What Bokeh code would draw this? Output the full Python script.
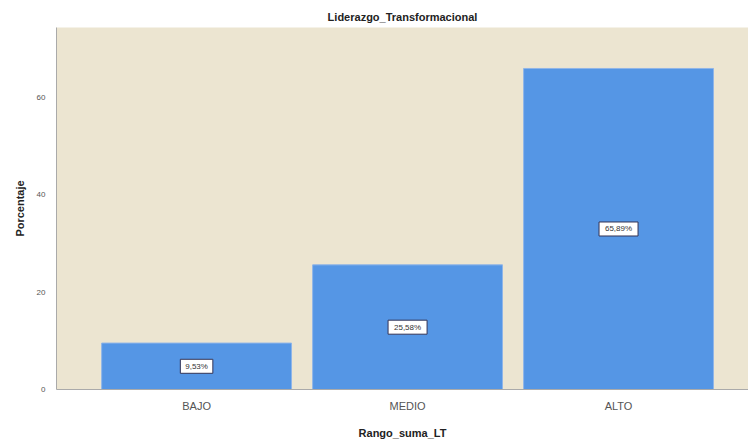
from bokeh.plotting import figure
from bokeh.models import Range1d, FixedTicker, ColumnDataSource
from bokeh.core.properties import value
from bokeh.embed import file_html
from bokeh.resources import INLINE

categories = ["BAJO", "MEDIO", "ALTO"]
values = [9.53, 25.58, 65.89]
labels = ["9,53%", "25,58%", "65,89%"]
y_ticks = [0, 20, 40, 60]

x = list(range(len(categories)))
src = ColumnDataSource(dict(x=x, top=values, mid=[v / 2 for v in values], lab=labels,
                            bw=[6.5 * len(s) for s in labels]))

p = figure(width=748, height=443, output_backend="svg", toolbar_location=None,
           x_range=Range1d(-0.664, 2.616), y_range=Range1d(0, 74.3),
           frame_width=692, frame_height=362,
           min_border_left=56, min_border_right=0, min_border_top=27, min_border_bottom=54,
           title="Liderazgo_Transformacional")
p.background_fill_color = "#ECE5D1"
p.border_fill_color = "white"
p.outline_line_color = None
p.grid.visible = False

p.title.align = "center"
p.title.text_font = "Liberation Sans"
p.title.text_font_size = "11px"
p.title.text_font_style = "bold"
p.title.text_color = "#222222"
p.title.standoff = 9

p.vbar(x="x", top="top", width=0.9, source=src, fill_color="#5596E5",
       line_color="#8FB5E8", line_width=1)

p.rect(x="x", y="mid", width="bw", height=14, width_units="screen", height_units="screen",
       source=src, fill_color="white", line_color="#333355", line_width=1)
p.text(x="x", y="mid", text="lab", source=src, text_align="center",
       text_baseline="middle", text_font_size="8px", text_font=value("Liberation Sans"),
       text_color="#333333")

p.xaxis.ticker = FixedTicker(ticks=x)
p.xaxis.major_label_overrides = {i: c for i, c in enumerate(categories)}
p.xaxis.axis_label = "Rango_suma_LT"
p.xaxis.major_label_text_font_size = "11px"
p.xaxis.major_label_text_color = "#555555"
p.xaxis.major_label_standoff = 4
p.xaxis.axis_label_standoff = 12
p.yaxis.ticker = FixedTicker(ticks=y_ticks)
p.yaxis.axis_label = "Porcentaje"
p.yaxis.major_label_text_font_size = "8px"
p.yaxis.major_label_text_color = "#555555"
p.yaxis.major_label_standoff = 5
p.yaxis.axis_label_standoff = 8
for ax in (p.xaxis, p.yaxis):
    ax.axis_line_color = "#AAAAAA"
    ax.major_tick_line_color = None
    ax.minor_tick_line_color = None
    ax.major_label_text_font = "Liberation Sans"
    ax.axis_label_text_font = "Liberation Sans"
    ax.axis_label_text_font_size = "11px"
    ax.axis_label_text_font_style = "bold"
    ax.axis_label_text_color = "#222222"

open("out.html", "w").write(file_html(p, INLINE))
